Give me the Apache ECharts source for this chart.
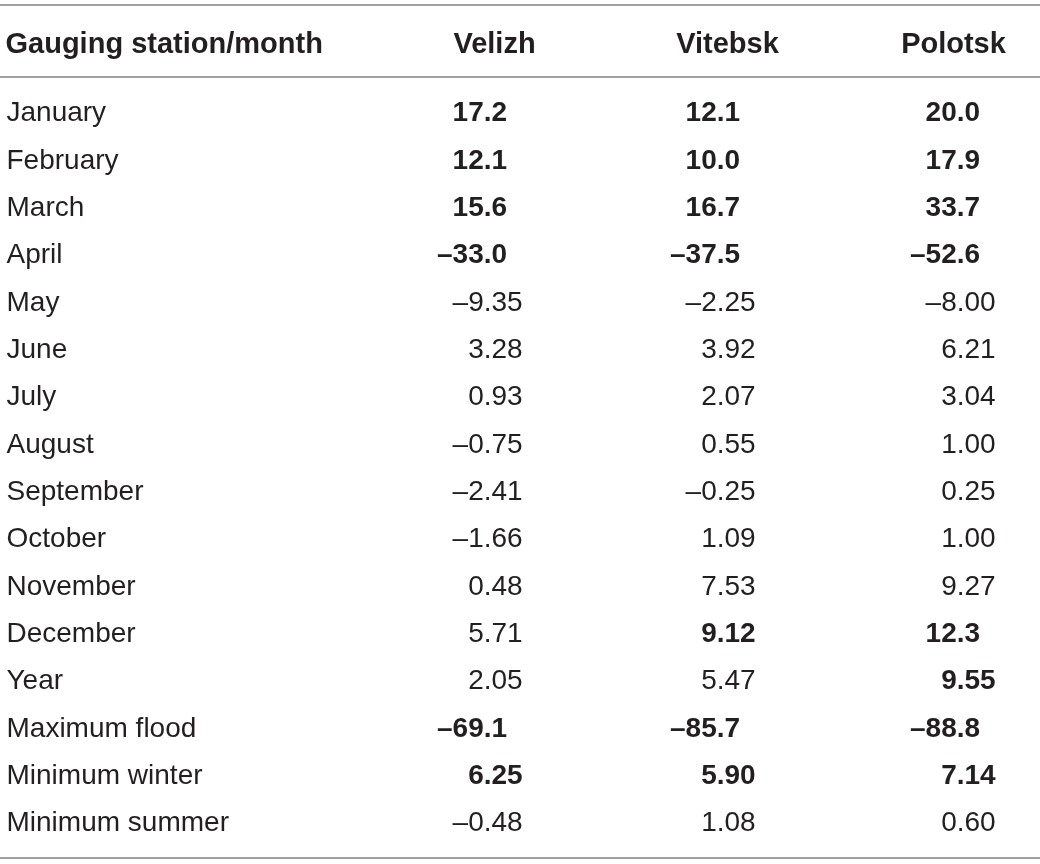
<!DOCTYPE html>
<html><head><meta charset="utf-8">
<script src="https://cdn.jsdelivr.net/npm/echarts@6/dist/echarts.min.js"></script>
<style>html,body{margin:0;padding:0;background:#fff}#c{width:1040px;height:864px}</style>
</head><body><div id="c"></div>
<script>
// ---- data ----
const headerLabels = ['Gauging station/month', 'Velizh', 'Vitebsk', 'Polotsk'];
const rowLabels = ['January', 'February', 'March', 'April', 'May', 'June', 'July', 'August',
  'September', 'October', 'November', 'December', 'Year', 'Maximum flood', 'Minimum winter', 'Minimum summer'];
const velizh  = [17.2, 12.1, 15.6, -33.0, -9.35, 3.28, 0.93, -0.75, -2.41, -1.66, 0.48, 5.71, 2.05, -69.1, 6.25, -0.48];
const vitebsk = [12.1, 10.0, 16.7, -37.5, -2.25, 3.92, 2.07, 0.55, -0.25, 1.09, 7.53, 9.12, 5.47, -85.7, 5.90, 1.08];
const polotsk = [20.0, 17.9, 33.7, -52.6, -8.00, 6.21, 3.04, 1.00, 0.25, 1.00, 9.27, 12.3, 9.55, -88.8, 7.14, 0.60];
// significant (bold) cells
const velizhSig  = [1,1,1,1,0,0,0,0,0,0,0,0,0,1,1,0];
const vitebskSig = [1,1,1,1,0,0,0,0,0,0,0,1,0,1,1,0];
const polotskSig = [1,1,1,1,0,0,0,0,0,0,0,1,1,1,1,0];

// ---- layout (styles / positions, not data) ----
const FONT = '"Liberation Sans", Arial, Helvetica, sans-serif';
const TEXT = '#231f20';
const RULE = '#a0a0a0';
const labelX = 7;
const decimalX = [492, 725, 965];
const headerX = [6, 495, 728, 954];
const headerRow = -0.441;
const rules = [-1.303, 0.212, 16.719];
const yMin = -1.4086, yMax = 16.846;

function fmt(v) {
  const a = Math.abs(v);
  return (v < 0 ? '\u2013' : '') + a.toFixed(a >= 10 ? 1 : 2);
}

const columns = [[velizh, velizhSig], [vitebsk, vitebskSig], [polotsk, polotskSig]];

const base = {
  type: 'scatter', symbolSize: 1, itemStyle: { color: 'rgba(0,0,0,0)', opacity: 1 },
  emphasis: { disabled: true }, silent: true, animation: false
};
function labelStyle(align, bold, size) {
  return {
    show: true, position: [0, 0], align: align, verticalAlign: 'middle', opacity: 1,
    fontFamily: FONT, fontSize: size || 28, color: TEXT, fontWeight: bold ? 'bold' : 'normal'
  };
}

const series = [];
// header + horizontal rules
series.push(Object.assign({}, base, {
  data: headerLabels.map((h, i) => ({
    value: [headerX[i], headerRow],
    label: Object.assign(labelStyle(i === 0 ? 'left' : 'center', true, 29), { formatter: p => headerLabels[p.dataIndex] })
  })),
  label: labelStyle('center', true, 29),
  markLine: {
    silent: true, symbol: ['none', 'none'], label: { show: false }, animation: false,
    lineStyle: { color: RULE, width: 2, type: 'solid', opacity: 1 },
    data: rules.map(r => ({ yAxis: r }))
  }
}));

// row labels
series.push(Object.assign({}, base, {
  data: rowLabels.map((r, i) => [labelX, i + 1]),
  label: Object.assign(labelStyle('left', false), { formatter: p => rowLabels[p.dataIndex] })
}));

// value columns, aligned on the decimal point
columns.forEach(([vals, sig], c) => {
  const strs = vals.map(fmt);
  const intParts = strs.map(s => s.slice(0, s.indexOf('.') + 1));
  const fracParts = strs.map(s => s.slice(s.indexOf('.') + 1));
  series.push(Object.assign({}, base, {
    data: vals.map((v, i) => ({ value: [decimalX[c], i + 1], label: Object.assign(labelStyle('right', sig[i]), { formatter: p => intParts[p.dataIndex] }) })),
    label: labelStyle('right', false)
  }));
  series.push(Object.assign({}, base, {
    data: vals.map((v, i) => ({ value: [decimalX[c], i + 1], label: Object.assign(labelStyle('left', sig[i]), { formatter: p => fracParts[p.dataIndex] }) })),
    label: labelStyle('left', false)
  }));
});

const chart = echarts.init(document.getElementById('c'), null, { renderer: 'canvas' });
chart.setOption({
  backgroundColor: '#ffffff',
  animation: false,
  grid: { left: 0, right: 0, top: 0, bottom: 0 },
  xAxis: { type: 'value', min: 0, max: 1040, show: false },
  yAxis: { type: 'value', inverse: true, min: yMin, max: yMax, show: false },
  tooltip: { show: false },
  series: series
});
</script>
</body></html>
